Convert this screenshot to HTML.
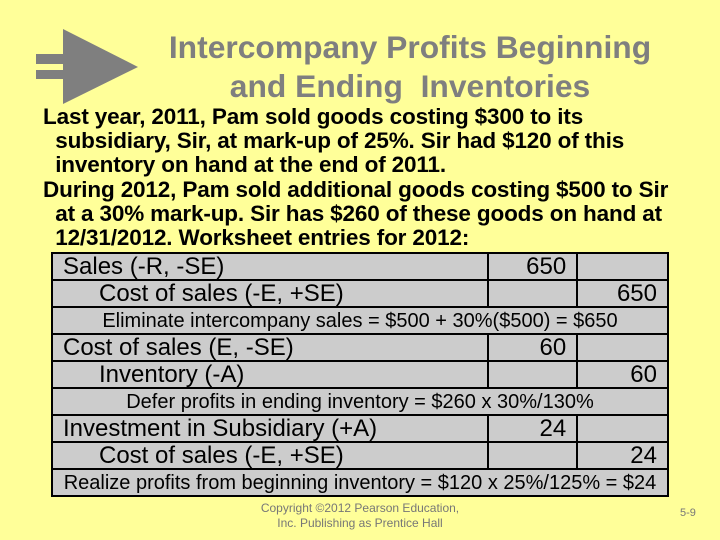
<!DOCTYPE html>
<html><head><meta charset="utf-8"><style>
body{margin:0;width:720px;height:540px;background:#ffff99;position:relative;overflow:hidden;font-family:"Liberation Sans",sans-serif}
.t{position:absolute;white-space:nowrap}
#title{left:110px;width:600px;top:28px;text-align:center;color:#7f7f7f;font-size:31.8px;font-weight:bold;line-height:39px}
#body{left:43px;top:105px;font-size:22.5px;font-weight:bold;line-height:24.2px;color:#000;letter-spacing:-0.15px}
table{position:absolute;left:51px;top:252px;width:618px;border-collapse:collapse}
td{background:#cccccc;border:2px solid #000;padding:0;height:25px;font-size:24px;line-height:24px}
td.n{text-align:right;padding-right:10px}
td.m{text-align:center;font-size:20px}
#foot{left:250px;width:220px;top:501px;text-align:center;font-size:12px;color:#777;line-height:15px}
#pg{left:680px;top:507px;font-size:11px;color:#777}
</style></head><body>
<svg class="t" style="left:0;top:0" width="150" height="110">
<rect x="36" y="54" width="28" height="10" fill="#7f7f7f"/><rect x="36" y="70" width="28" height="9" fill="#7f7f7f"/>
<polygon points="63,29 138,67 63,104" fill="#7f7f7f"/></svg>
<div id="title" class="t">Intercompany Profits Beginning<br>and Ending&nbsp; Inventories</div>
<div id="body" class="t">Last year, 2011, Pam sold goods costing $300 to its<br>&nbsp;&nbsp;subsidiary, Sir, at mark-up of 25%. Sir had $120 of this<br>&nbsp;&nbsp;inventory on hand at the end of 2011.<br>During 2012, Pam sold additional goods costing $500 to Sir<br>&nbsp;&nbsp;at a 30% mark-up. Sir has $260 of these goods on hand at<br>&nbsp;&nbsp;12/31/2012. Worksheet entries for 2012:</div>
<table>
<colgroup><col style="width:438px"><col style="width:89px"><col style="width:91px"></colgroup>
<tr><td style="padding-left:10px">Sales (-R, -SE)</td><td class="n">650</td><td></td></tr>
<tr><td style="padding-left:46px">Cost of sales (-E, +SE)</td><td></td><td class="n">650</td></tr>
<tr><td colspan="3" class="m">Eliminate intercompany sales = $500 + 30%($500) = $650</td></tr>
<tr><td style="padding-left:10px">Cost of sales (E, -SE)</td><td class="n">60</td><td></td></tr>
<tr><td style="padding-left:46px">Inventory (-A)</td><td></td><td class="n">60</td></tr>
<tr><td colspan="3" class="m">Defer profits in ending inventory = $260 x 30%/130%</td></tr>
<tr><td style="padding-left:10px">Investment in Subsidiary (+A)</td><td class="n">24</td><td></td></tr>
<tr><td style="padding-left:46px">Cost of sales (-E, +SE)</td><td></td><td class="n">24</td></tr>
<tr><td colspan="3" class="m">Realize profits from beginning inventory = $120 x 25%/125% = $24</td></tr>
</table>
<div id="foot" class="t">Copyright ©2012 Pearson Education,<br>Inc. Publishing as Prentice Hall</div>
<div id="pg" class="t">5-9</div>
</body></html>
